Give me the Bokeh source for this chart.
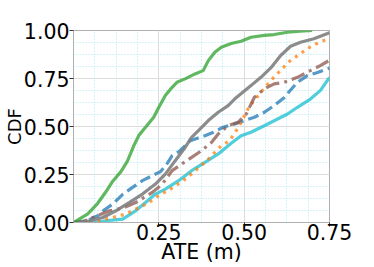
from bokeh.plotting import figure
from bokeh.models import FixedTicker, PrintfTickFormatter, Range1d
from bokeh.embed import file_html
from bokeh.resources import INLINE

# ---- data ----
green_x = [0.0, 0.042, 0.071, 0.095, 0.115, 0.139, 0.158, 0.178, 0.192, 0.211, 0.235, 0.250, 0.269,
           0.289, 0.303, 0.327, 0.356, 0.380, 0.395, 0.414, 0.433, 0.462, 0.491, 0.520, 0.559,
           0.588, 0.627, 0.665, 0.699]
green_y = [0.0, 0.045, 0.100, 0.160, 0.215, 0.265, 0.320, 0.405, 0.455, 0.496, 0.548, 0.600, 0.661,
           0.704, 0.730, 0.748, 0.774, 0.791, 0.843, 0.887, 0.913, 0.932, 0.944, 0.965, 0.975,
           0.979, 0.991, 0.997, 1.0]

gray_x = [0.0, 0.047, 0.086, 0.124, 0.163, 0.202, 0.240, 0.269, 0.298, 0.327, 0.346, 0.366, 0.395,
          0.424, 0.453, 0.472, 0.496, 0.520, 0.549, 0.578, 0.607, 0.636, 0.665, 0.704, 0.733, 0.75]
gray_y = [0.0, 0.009, 0.026, 0.061, 0.104, 0.148, 0.200, 0.252, 0.322, 0.391, 0.443, 0.478, 0.531,
          0.574, 0.609, 0.643, 0.678, 0.713, 0.756, 0.805, 0.870, 0.918, 0.939, 0.957, 0.976, 0.988]

blue_x = [0.0, 0.04, 0.071, 0.09, 0.115, 0.145, 0.173, 0.202, 0.231, 0.255, 0.272, 0.289, 0.31,
          0.342, 0.365, 0.385, 0.41, 0.438, 0.472, 0.501, 0.530, 0.559, 0.588, 0.617, 0.636,
          0.656, 0.685, 0.713, 0.75]
blue_y = [0.0, 0.01, 0.035, 0.065, 0.096, 0.148, 0.183, 0.218, 0.244, 0.265, 0.30, 0.348, 0.37,
          0.426, 0.44, 0.452, 0.47, 0.496, 0.513, 0.531, 0.548, 0.574, 0.609, 0.650, 0.690,
          0.730, 0.765, 0.780, 0.805]

cyan_x = [0.0, 0.055, 0.095, 0.144, 0.182, 0.211, 0.240, 0.269, 0.308, 0.346, 0.385, 0.424, 0.462,
          0.491, 0.520, 0.559, 0.598, 0.627, 0.656, 0.694, 0.723, 0.75]
cyan_y = [0.0, 0.0, 0.009, 0.018, 0.061, 0.104, 0.148, 0.174, 0.218, 0.270, 0.313, 0.357, 0.413,
          0.452, 0.470, 0.504, 0.539, 0.565, 0.600, 0.643, 0.687, 0.755]

brown_x = [0.0, 0.03, 0.057, 0.105, 0.144, 0.182, 0.231, 0.260, 0.289, 0.317, 0.346, 0.375, 0.404,
           0.424, 0.453, 0.482, 0.506, 0.530, 0.559, 0.588, 0.617, 0.656, 0.694, 0.723, 0.75]
brown_y = [0.0, 0.005, 0.026, 0.061, 0.075, 0.104, 0.157, 0.200, 0.270, 0.305, 0.339, 0.374, 0.417,
           0.461, 0.504, 0.522, 0.565, 0.652, 0.696, 0.722, 0.730, 0.756, 0.791, 0.817, 0.845]

orange_x = [0.0, 0.06, 0.115, 0.153, 0.192, 0.221, 0.245, 0.274, 0.293, 0.33, 0.36, 0.395, 0.433,
            0.457, 0.472, 0.486, 0.511, 0.525, 0.55, 0.578, 0.598, 0.631, 0.665, 0.694, 0.723, 0.75]
orange_y = [0.0, 0.005, 0.026, 0.044, 0.078, 0.104, 0.135, 0.165, 0.183, 0.23, 0.275, 0.330, 0.400,
            0.426, 0.465, 0.504, 0.591, 0.626, 0.68, 0.739, 0.776, 0.837, 0.880, 0.915, 0.941, 0.958]

x_ticks = [0.25, 0.5, 0.75]
y_ticks = [0.0, 0.25, 0.5, 0.75, 1.0]
x_minor = [i * 0.0625 for i in range(0, 13)]
y_minor = [i * 0.0625 for i in range(0, 17)]

FONT = "DejaVu Sans"
FS = "20.5px"

p = figure(width=374, height=267, output_backend="svg", toolbar_location=None,
           x_range=Range1d(0.0, 0.75), y_range=Range1d(0.0, 1.0))
p.min_border_left = 73
p.min_border_right = 45
p.min_border_top = 30
p.min_border_bottom = 45
p.background_fill_color = "white"
p.border_fill_color = "white"
p.outline_line_color = "#b0b0b0"
p.outline_line_width = 1

p.xaxis.ticker = FixedTicker(ticks=x_ticks, minor_ticks=x_minor)
p.yaxis.ticker = FixedTicker(ticks=y_ticks, minor_ticks=y_minor)
p.xaxis.formatter = PrintfTickFormatter(format="%.2f")
p.yaxis.formatter = PrintfTickFormatter(format="%.2f")

for ax in (p.xaxis, p.yaxis):
    ax.major_label_text_font = FONT
    ax.major_label_text_font_size = FS
    ax.major_label_text_color = "black"
    ax.axis_label_text_font = FONT
    ax.axis_label_text_font_size = FS
    ax.axis_label_text_font_style = "normal"
    ax.axis_label_text_color = "black"
    ax.axis_line_color = "#b0b0b0"
    ax.major_tick_line_color = "#333333"
    ax.major_tick_out = 4
    ax.major_tick_in = 0
    ax.minor_tick_out = 0
    ax.minor_tick_in = 0

p.xaxis.axis_label = "ATE (m)"
p.yaxis.axis_label = "CDF"
p.yaxis.axis_label_text_font_size = "18px"
p.xaxis.major_label_standoff = -3
p.xaxis.axis_label_standoff = -3
p.yaxis.major_label_standoff = 0
p.yaxis.axis_label_standoff = -4

p.grid.grid_line_color = "#dcdcdc"
p.grid.grid_line_width = 1
p.grid.minor_grid_line_color = "#a8e6f5"
p.grid.minor_grid_line_dash = "1 2"
p.grid.minor_grid_line_width = 1

LW = 3.2
A = 0.75
p.line(cyan_x, cyan_y, line_color="#17becf", line_width=LW, line_alpha=A)
p.line(blue_x, blue_y, line_color="#1f77b4", line_width=LW, line_alpha=A, line_dash="11 5")
p.line(orange_x, orange_y, line_color="#ff7f0e", line_width=LW, line_alpha=A, line_dash="3 5")
p.line(brown_x, brown_y, line_color="#8c564b", line_width=LW, line_alpha=A, line_dash="14 5 3 5")
p.line(gray_x, gray_y, line_color="#7f7f7f", line_width=LW, line_alpha=0.9)
p.line(green_x, green_y, line_color="#2ca02c", line_width=LW, line_alpha=A)

open("out.html", "w").write(file_html(p, INLINE))
